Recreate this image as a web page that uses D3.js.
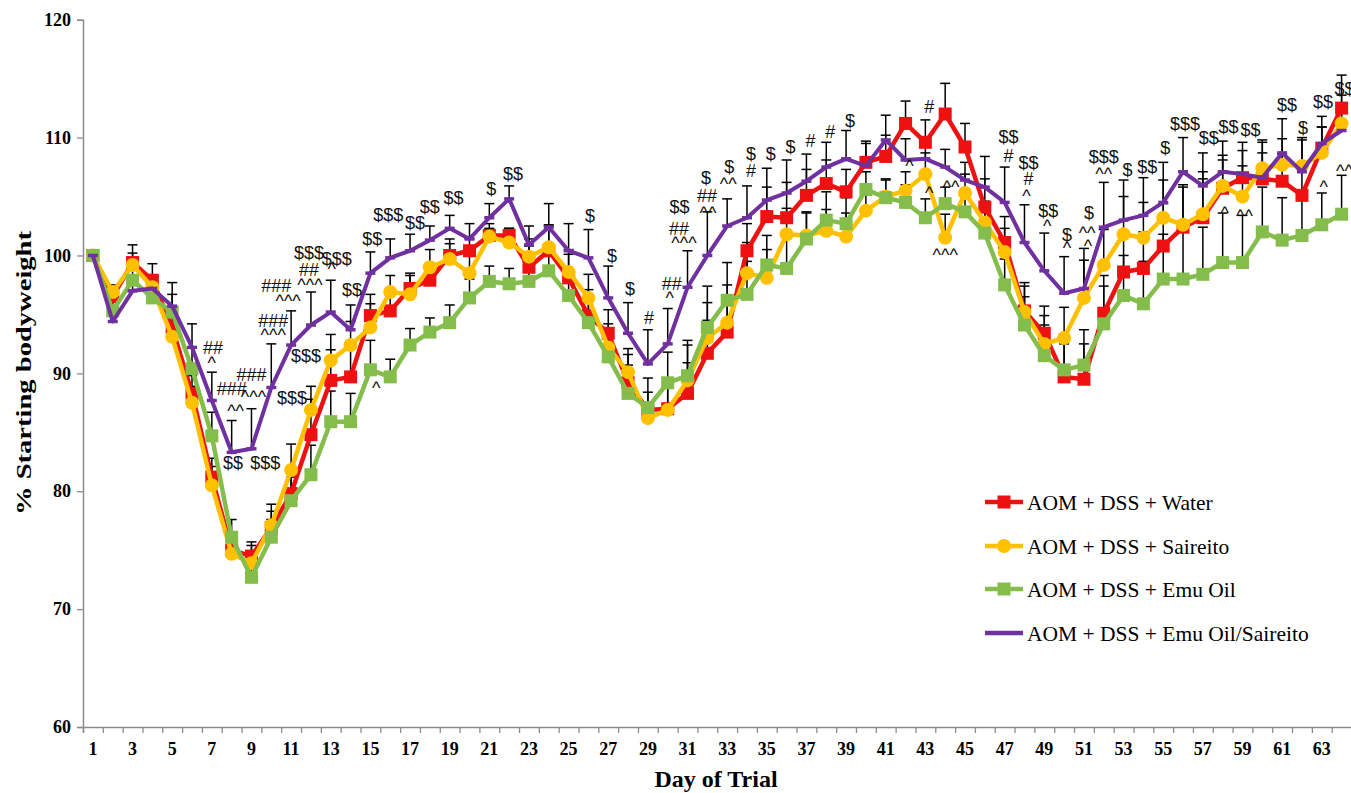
<!DOCTYPE html>
<html>
<head>
<meta charset="utf-8">
<script src="https://cdnjs.cloudflare.com/ajax/libs/d3/7.8.5/d3.min.js"></script>
<style>
  body { margin: 0; background: #fff; }
  svg { display: block; }
  .tick-label { font-family: "Liberation Serif", "Times New Roman", serif; font-weight: bold; font-size: 18px; fill: #000; }
  .axis-title { font-family: "Liberation Serif", "Times New Roman", serif; font-weight: bold; fill: #000; }
  .legend-text { font-family: "Liberation Serif", "Times New Roman", serif; font-size: 21.5px; fill: #000; }
  .note { font-family: "Liberation Sans", Arial, sans-serif; font-size: 18px; fill: #111; }
</style>
</head>
<body>
<svg id="chart" width="1351" height="793"></svg>
<script>
// categories
const days = [1, 2, 3, 4, 5, 6, 7, 8, 9, 10, 11, 12, 13, 14, 15, 16, 17, 18, 19, 20,
    21, 22, 23, 24, 25, 26, 27, 28, 29, 30, 31, 32, 33, 34, 35, 36, 37, 38, 39, 40,
    41, 42, 43, 44, 45, 46, 47, 48, 49, 50, 51, 52, 53, 54, 55, 56, 57, 58, 59, 60,
    61, 62, 63, 64];
const yTicks = [60, 70, 80, 90, 100, 110, 120];

// % starting bodyweight
const water = [100, 96.5, 99.4, 97.9, 93.9, 88.3, 81.2, 75.0, 74.5, 76.9, 79.8, 84.8, 89.4, 89.7, 94.9, 95.3,
    97.2, 97.9, 100.0, 100.4, 101.7, 101.7, 99.0, 100.4, 98.1, 94.9, 93.4, 89.2, 86.9, 87.0, 88.3, 91.7,
    93.5, 100.4, 103.3, 103.2, 105.1, 106.1, 105.4, 107.9, 108.4, 111.2, 109.6, 112.0, 109.2, 104.1, 101.1, 95.3,
    93.4, 89.7, 89.5, 95.1, 98.6, 98.9, 100.8, 102.4, 103.2, 105.7, 106.6, 106.5, 106.3, 105.1, 109.1, 112.5];
const saireito = [100, 96.9, 99.2, 97.3, 93.1, 87.5, 80.5, 74.7, 73.9, 77.1, 81.8, 86.9, 91.1, 92.4, 93.9, 96.9,
    96.7, 99.0, 99.7, 98.5, 101.6, 101.1, 99.9, 100.7, 98.6, 96.4, 92.2, 90.1, 86.2, 86.9, 89.4, 93.0,
    94.3, 98.5, 98.1, 101.8, 101.7, 102.1, 101.6, 103.8, 105.0, 105.5, 106.9, 101.5, 105.3, 102.8, 100.3, 95.2,
    92.5, 93.0, 96.4, 99.2, 101.8, 101.5, 103.2, 102.6, 103.5, 105.9, 105.0, 107.4, 107.7, 107.6, 108.7, 111.2];
const emuOil = [100, 95.3, 97.9, 96.4, 95.2, 90.4, 84.7, 76.1, 72.7, 76.1, 79.2, 81.4, 85.9, 85.9, 90.3, 89.7,
    92.4, 93.5, 94.3, 96.4, 97.8, 97.6, 97.8, 98.7, 96.6, 94.3, 91.4, 88.3, 87.1, 89.2, 89.8, 93.9,
    96.2, 96.7, 99.2, 98.9, 101.4, 103.0, 102.7, 105.6, 104.9, 104.5, 103.2, 104.4, 103.7, 101.9, 97.5, 94.1,
    91.5, 90.3, 90.7, 94.2, 96.6, 95.9, 98.0, 98.0, 98.4, 99.4, 99.4, 102.0, 101.3, 101.7, 102.6, 103.5];
const emuSaireito = [100, 94.4, 97.0, 97.2, 95.7, 92.2, 87.7, 83.3, 83.6, 88.8, 92.4, 94.1, 95.2, 93.7, 98.5, 99.8,
    100.4, 101.3, 102.3, 101.4, 103.2, 104.8, 100.9, 102.4, 100.4, 99.8, 96.4, 93.4, 90.8, 92.5, 97.3, 100.0,
    102.5, 103.2, 104.7, 105.3, 106.3, 107.5, 108.2, 107.6, 109.8, 108.1, 108.2, 107.5, 106.4, 105.8, 104.5, 101.1,
    98.7, 96.8, 97.2, 102.4, 103.0, 103.4, 104.5, 107.1, 105.9, 107.1, 106.9, 106.6, 108.7, 107.1, 109.5, 110.6];

// upper error bar lengths (SEM)
const waterErr = [0, 0.6, 1.5, 1.4, 1.5, 1.5, 1.6, 1.2, 1.2, 1.4, 2.2, 3.0, 2.6, 2.4, 1.8, 1.6,
    1.3, 1.4, 1.4, 1.0, 0.6, 0.6, 1.8, 2.2, 2.0, 2.2, 2.0, 2.4, 0.6, 2.2, 2.6, 2.8,
    3.0, 2.3, 2.5, 3.0, 2.2, 2.0, 1.9, 1.8, 1.8, 1.9, 1.9, 2.6, 2.0, 2.4, 2.2, 2.4,
    2.3, 2.8, 3.0, 3.2, 3.3, 3.1, 3.6, 3.4, 3.3, 2.4, 2.3, 2.2, 2.3, 2.3, 1.8, 2.8];
const saireitoErr = [0, 0.6, 1.0, 1.0, 1.2, 1.4, 1.6, 1.4, 1.5, 1.8, 2.2, 2.0, 2.2, 2.0, 2.0, 1.4,
    1.6, 1.5, 1.3, 1.5, 1.1, 1.2, 1.5, 1.8, 1.9, 2.0, 2.0, 2.0, 2.2, 2.4, 3.0, 3.0,
    3.2, 2.6, 2.4, 2.2, 2.0, 1.8, 2.0, 1.6, 1.4, 1.6, 1.8, 2.0, 1.6, 1.8, 2.0, 2.2,
    2.4, 2.6, 3.2, 3.0, 3.2, 3.0, 3.2, 3.4, 3.6, 2.6, 2.6, 2.4, 2.2, 2.4, 2.2, 2.4];
const emuOilErr = [0, 0.8, 1.0, 1.2, 1.5, 1.8, 2.0, 1.5, 1.2, 1.5, 2.0, 2.5, 2.6, 2.4, 2.5, 1.5,
    1.4, 1.2, 1.5, 1.6, 1.3, 1.3, 1.4, 1.5, 1.8, 2.0, 2.0, 2.4, 2.5, 2.6, 3.0, 3.5,
    3.2, 2.8, 2.5, 2.6, 2.2, 2.4, 2.2, 1.5, 1.6, 1.5, 1.6, 1.4, 1.4, 2.0, 2.2, 2.4,
    2.6, 2.8, 3.0, 3.2, 3.4, 3.6, 3.8, 4.0, 4.0, 4.2, 4.0, 3.8, 3.6, 3.6, 2.7, 3.3];
const emuSaireitoErr = [0, 0.8, 0.8, 0.8, 2.0, 2.0, 2.4, 2.7, 3.4, 3.7, 2.9, 2.8, 2.7, 2.1, 1.8, 1.6,
    1.4, 1.2, 1.1, 1.3, 1.2, 1.1, 1.6, 2.0, 2.3, 2.4, 2.7, 2.6, 2.9, 3.0, 3.1, 3.7,
    2.3, 2.7, 2.7, 2.8, 2.3, 2.1, 2.4, 1.9, 2.1, 1.8, 1.5, 1.5, 1.5, 2.6, 3.0, 3.2,
    3.2, 3.1, 3.4, 3.8, 3.4, 3.2, 3.4, 2.9, 2.8, 2.6, 2.7, 3.0, 2.9, 2.7, 2.3, 1.8];

// significance marks: day (fractional where the label sits off-centre), level in %, text
const noteDays = [7.06, 7.0, 8.0, 8.2, 9.0, 9.1, 8.07, 9.7, 10.1, 10.1, 10.25, 10.85, 11.75, 11.05,
    11.9, 11.9, 11.95, 13.3, 13.05, 14.07, 15.1, 15.3, 15.9, 17.25, 18.0, 19.2, 21.1, 22.2,
    26.08, 27.19, 28.1, 29.06, 30.2, 30.1, 30.6, 30.57, 30.82, 31.93, 31.98, 32.03, 33.1, 33.05,
    34.2, 34.2, 35.2, 36.2, 37.2, 38.2, 39.2, 43.2, 42.2, 43.2, 44.3, 44.0, 47.2, 47.2,
    48.2, 48.2, 48.1, 49.2, 49.15, 50.15, 50.15, 51.26, 51.16, 51.2, 52.0, 52.0, 53.2, 54.2,
    55.1, 56.1, 57.3, 58.3, 59.4, 58.1, 59.1, 61.25, 62.05, 63.06, 63.1, 64.15, 64.15];
const noteLevels = [92.2, 90.9, 88.7, 86.8, 89.9, 88.05, 82.4, 82.4, 94.5, 93.3, 97.4, 96.2, 91.5, 87.9,
    100.2, 98.8, 97.5, 99.75, 98.9, 97.1, 101.4, 88.8, 103.5, 102.8, 104.1, 104.9, 105.7, 106.9,
    103.4, 100.0, 97.2, 94.7, 97.6, 96.4, 104.1, 102.3, 101.1, 106.6, 105.1, 103.6, 107.5, 106.1,
    108.6, 107.2, 108.6, 109.2, 109.75, 110.5, 111.4, 112.6, 107.6, 105.3, 105.85, 100.1, 110.1, 108.5,
    107.9, 106.5, 105.1, 103.8, 102.5, 101.8, 100.7, 103.6, 101.95, 100.8, 108.4, 106.9, 107.3, 107.5,
    109.15, 111.2, 110.0, 110.9, 110.7, 103.6, 103.4, 112.8, 110.8, 113.05, 105.85, 107.2, 114.15];
const noteTexts = ["##", "^", "###", "^^", "###", "^^^", "$$", "$$$", "###", "^^^", "###", "^^^", "$$$", "$$$",
    "$$$", "##", "^^^", "$$$", "^", "$$", "$$", "^", "$$$", "$$", "$$", "$$", "$", "$$",
    "$", "$", "$", "#", "##", "^", "$$", "##", "^^^", "$", "##", "^^", "$", "^^",
    "$", "#", "$", "$", "#", "#", "$", "#", "^", "^", "^^", "^^^", "$$", "#",
    "$$", "#", "^", "$$", "^", "$", "^", "$", "^^", "^", "$$$", "^^", "$", "$$",
    "$", "$$$", "$$", "$$", "$$", "^", "^^", "$$", "$", "$$", "^", "^^", "$$"];

const series = [
    {name: "AOM + DSS + Water", values: water, err: waterErr, color: "#EE1111", marker: "square"},
    {name: "AOM + DSS + Saireito", values: saireito, err: saireitoErr, color: "#FFC000", marker: "circle"},
    {name: "AOM + DSS + Emu Oil", values: emuOil, err: emuOilErr, color: "#84BD4B", marker: "square"},
    {name: "AOM + DSS + Emu Oil/Saireito", values: emuSaireito, err: emuSaireitoErr, color: "#7030A0", marker: "dash"}
];

const svg = d3.select("#chart");

// day 1 sits in the middle of the first category slot
const x = d3.scaleLinear().domain([0.5, 64.5]).range([83, 1351.5]);
const y = d3.scaleLinear().domain([60, 120]).range([727, 19.7]);

// y axis
const yAxis = svg.append("g")
    .attr("transform", "translate(83,0)")
    .call(d3.axisLeft(y).tickValues(yTicks).tickSize(6).tickPadding(6).tickFormat(d3.format("d")));
yAxis.select(".domain").attr("stroke", "#8c8c8c").attr("stroke-width", 1.5);
yAxis.selectAll(".tick line").attr("stroke", "#8c8c8c").attr("stroke-width", 1.3);
yAxis.selectAll(".tick text").attr("class", "tick-label").attr("font-size", null).attr("font-family", null);

// x axis: ticks between categories, labels on odd days
const xAxis = svg.append("g")
    .attr("transform", "translate(0,727)")
    .call(d3.axisBottom(x).tickValues(days.map(d => d - 0.5).concat([64.5])).tickSize(6).tickFormat(""));
xAxis.select(".domain").attr("stroke", "#8c8c8c").attr("stroke-width", 1.5);
xAxis.selectAll(".tick line").attr("stroke", "#8c8c8c").attr("stroke-width", 1.3);

svg.append("g").selectAll("text")
    .data(days.filter(d => d % 2 === 1))
    .join("text")
    .attr("class", "tick-label")
    .attr("x", d => x(d))
    .attr("y", 755)
    .attr("text-anchor", "middle")
    .text(d => d);

svg.append("text")
    .attr("class", "axis-title")
    .attr("x", 716)
    .attr("y", 787)
    .attr("text-anchor", "middle")
    .attr("font-size", 24)
    .text("Day of Trial");

svg.append("text")
    .attr("class", "axis-title")
    .attr("transform", "translate(31,373) rotate(-90)")
    .attr("text-anchor", "middle")
    .attr("font-size", 22)
    .attr("textLength", 284)
    .attr("lengthAdjust", "spacingAndGlyphs")
    .text("% Starting bodyweight");

// error bars (upper only), drawn beneath the lines
const bars = svg.append("g").attr("stroke", "#000").attr("stroke-width", 1.5);
series.forEach(s => {
    s.values.forEach((v, i) => {
        const e = s.err[i];
        if (!e) return;
        const cx = x(days[i]);
        bars.append("line").attr("x1", cx).attr("x2", cx).attr("y1", y(v)).attr("y2", y(v + e));
        bars.append("line").attr("x1", cx - 5).attr("x2", cx + 5).attr("y1", y(v + e)).attr("y2", y(v + e));
    });
});

// series lines and markers
const line = d3.line().x((d, i) => x(days[i])).y(d => y(d));

function drawMarker(g, type, color, cx, cy) {
    if (type === "square") {
        const s = 13;
        g.append("rect").attr("x", cx - s / 2).attr("y", cy - s / 2).attr("width", s).attr("height", s).attr("fill", color);
    } else if (type === "circle") {
        g.append("circle").attr("cx", cx).attr("cy", cy).attr("r", 7).attr("fill", color);
    } else {
        g.append("line").attr("x1", cx - 5).attr("x2", cx + 5).attr("y1", cy).attr("y2", cy)
            .attr("stroke", color).attr("stroke-width", 3.5);
    }
}

series.forEach(s => {
    const g = svg.append("g");
    g.append("path")
        .datum(s.values)
        .attr("d", line)
        .attr("fill", "none")
        .attr("stroke", s.color)
        .attr("stroke-width", s.marker === "dash" ? 4 : 4.5)
        .attr("stroke-linejoin", "round");
    s.values.forEach((v, i) => drawMarker(g, s.marker, s.color, x(days[i]), y(v)));
});

// significance labels
svg.append("g").selectAll("text")
    .data(noteTexts.map((t, i) => ({t: t, d: noteDays[i], v: noteLevels[i]})))
    .join("text")
    .attr("class", "note")
    .attr("x", d => x(d.d))
    .attr("y", d => y(d.v))
    .attr("dy", "0.35em")
    .attr("text-anchor", "middle")
    .text(d => d.t);

// legend
const legendRows = [502, 546, 589, 633];
const legend = svg.append("g");
series.forEach((s, i) => {
    const ly = legendRows[i];
    legend.append("line").attr("x1", 985).attr("x2", 1023).attr("y1", ly).attr("y2", ly)
        .attr("stroke", s.color).attr("stroke-width", 4.5);
    if (s.marker !== "dash") drawMarker(legend, s.marker, s.color, 1004, ly);
    legend.append("text")
        .attr("class", "legend-text")
        .attr("x", 1027)
        .attr("y", ly)
        .attr("dy", "0.35em")
        .text(s.name);
});
</script>
</body>
</html>
